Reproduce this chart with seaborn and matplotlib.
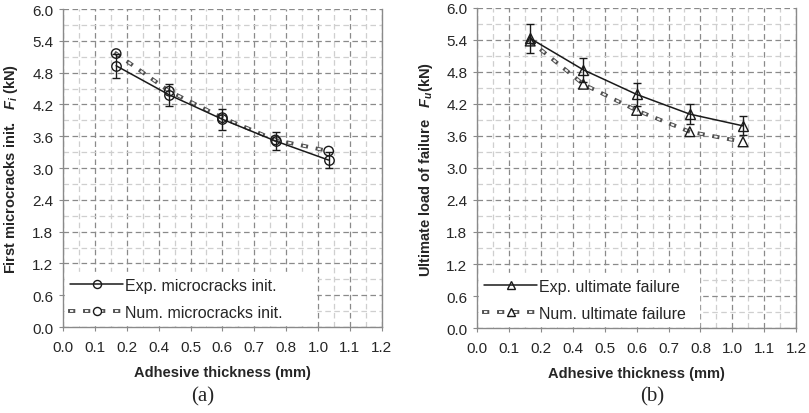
# Adhesive thickness vs. first microcracks / ultimate failure load
import numpy as np
import pandas as pd
import matplotlib
matplotlib.use("Agg")
import matplotlib.pyplot as plt
import matplotlib.patheffects as pe
from matplotlib.lines import Line2D
import seaborn as sns

# data
thickness = [0.2, 0.4, 0.6, 0.8, 1.0]

exp_init = [4.93, 4.38, 3.92, 3.51, 3.15]
exp_init_err = [0.23, 0.21, 0.20, 0.17, 0.15]
num_init = [5.16, 4.45, 3.95, 3.53, 3.32]

exp_ult = [5.43, 4.84, 4.38, 4.01, 3.79]
exp_ult_err = [0.27, 0.23, 0.22, 0.19, 0.18]
num_ult = [5.38, 4.57, 4.08, 3.68, 3.49]

x_ticks = np.linspace(0, 1.2, 11)
x_tick_labels = [f"{v:.1f}" for v in x_ticks]
y_ticks = np.arange(0, 6.01, 0.6)

sns.set_style("white")
plt.rcParams["font.family"] = ["Liberation Sans", "DejaVu Sans"]
plt.rcParams["mathtext.fontset"] = "custom"
plt.rcParams["mathtext.rm"] = "Liberation Sans:bold"
plt.rcParams["mathtext.it"] = "Liberation Sans:italic:bold"
plt.rcParams["lines.scale_dashes"] = False

GRID = "#8a8a8a"
MINOR = "#cfcfcf"
DASHES = (2.4, 8.4)
num_effects = [pe.Stroke(linewidth=2.8, foreground="#505050", capstyle="projecting"),
               pe.Normal()]


def style_axes(ax):
    ax.set_xlim(0, 1.2)
    ax.set_ylim(0, 6.0)
    ax.set_xticks(x_ticks)
    ax.set_xticklabels(x_tick_labels)
    ax.set_xticks(np.linspace(0.06, 1.14, 10), minor=True)
    ax.set_yticks(y_ticks)
    ax.set_yticklabels([f"{v:.1f}" for v in y_ticks])
    ax.set_yticks(np.arange(0.3, 6.0, 0.6), minor=True)
    ax.grid(which="major", color=GRID, linestyle=(0, (4, 2.5)), linewidth=0.9)
    ax.grid(which="minor", color=MINOR, linestyle=(0, (4, 2.5)), linewidth=0.9)
    ax.set_axisbelow(True)
    ax.spines["top"].set_visible(False)
    for side in ["left", "bottom", "right"]:
        ax.spines[side].set_color("#8a8a8a")
        ax.spines[side].set_linewidth(1.0)
    ax.tick_params(axis="both", which="major", labelsize=11, direction="out",
                   length=3, color="#8a8a8a", pad=4)
    ax.tick_params(axis="both", which="minor", length=0)
    ax.tick_params(axis="y", left=True)
    ax.tick_params(axis="x", bottom=True, pad=6)


def draw_panel(ax, exp, err, num, marker, msize, exp_label, num_label, leg_width):
    sns.lineplot(x=thickness, y=exp, ax=ax, color="#1a1a1a", linewidth=1.1,
                 marker=marker, markersize=msize, markerfacecolor="none",
                 markeredgecolor="#1a1a1a", markeredgewidth=1.0, zorder=4)
    ax.errorbar(thickness, exp, yerr=err, fmt="none", ecolor="#1a1a1a",
                elinewidth=1.0, capsize=3.2, capthick=1.0, zorder=4)
    sns.lineplot(x=thickness, y=num, ax=ax, color="#f4f4f4", linewidth=1.4,
                 dashes=False, zorder=3)
    nline = ax.lines[-1]
    nline.set_dashes(DASHES)
    nline.set_dash_capstyle("butt")
    nline.set_path_effects(num_effects)
    sns.scatterplot(x=thickness, y=num, ax=ax, marker=marker, s=msize ** 2,
                    facecolor="none", edgecolor="#1a1a1a", linewidth=1.0, zorder=5)

    h_exp = Line2D([], [], color="#1a1a1a", linewidth=1.1, marker=marker,
                   markersize=msize - 1, markerfacecolor="none",
                   markeredgecolor="#1a1a1a")
    h_num_line = Line2D([], [], color="#f4f4f4", linewidth=1.4, dashes=DASHES,
                        dash_capstyle="butt", path_effects=num_effects)
    h_num_mark = Line2D([], [], linestyle="none", marker=marker,
                        markersize=msize - 1, markerfacecolor="white",
                        markeredgecolor="#1a1a1a")
    leg = ax.legend([h_exp, (h_num_line, h_num_mark)], [exp_label, num_label],
                    loc="lower left", bbox_to_anchor=(0.0, 0.0, leg_width, 0.2),
                    mode="expand", borderaxespad=0.1, frameon=True,
                    fancybox=False, framealpha=1.0, edgecolor="white",
                    facecolor="white", fontsize=11.5, handlelength=3.3,
                    handletextpad=0.15, labelspacing=0.75, borderpad=0.35)
    leg.set_zorder(6)
    style_axes(ax)
    ax.set_xlabel("Adhesive thickness (mm)", fontsize=10.5, fontweight="bold")
    ax.xaxis.set_label_coords(0.5, -0.12)


fig = plt.figure(figsize=(8.09, 4.14), dpi=100)
ax1 = fig.add_axes([0.0779, 0.2077, 0.394, 0.768])
ax2 = fig.add_axes([0.5896, 0.2053, 0.3946, 0.773])

draw_panel(ax1, exp_init, exp_init_err, num_init, "o", 6.8,
           "Exp. microcracks init.", "Num. microcracks init.", 0.8)
ax1.set_ylabel("First microcracks init.   $F_i$ (kN)", fontsize=10.5,
               fontweight="bold")
ax1.yaxis.set_label_coords(-0.135, 0.5)

draw_panel(ax2, exp_ult, exp_ult_err, num_ult, "^", 7,
           "Exp. ultimate failure", "Num. ultimate failure", 0.7)
ax2.set_ylabel("Ultimate load of failure   $F_u$(kN)", fontsize=10.5,
               fontweight="bold")
ax2.yaxis.set_label_coords(-0.13, 0.5)

fig.text(203 / 809, 1 - 397 / 414, "(a)", ha="center", va="center",
         fontsize=15, family="Liberation Serif")
fig.text(652 / 809, 1 - 397 / 414, "(b)", ha="center", va="center",
         fontsize=15, family="Liberation Serif")

fig.savefig("out.png", dpi=100)
